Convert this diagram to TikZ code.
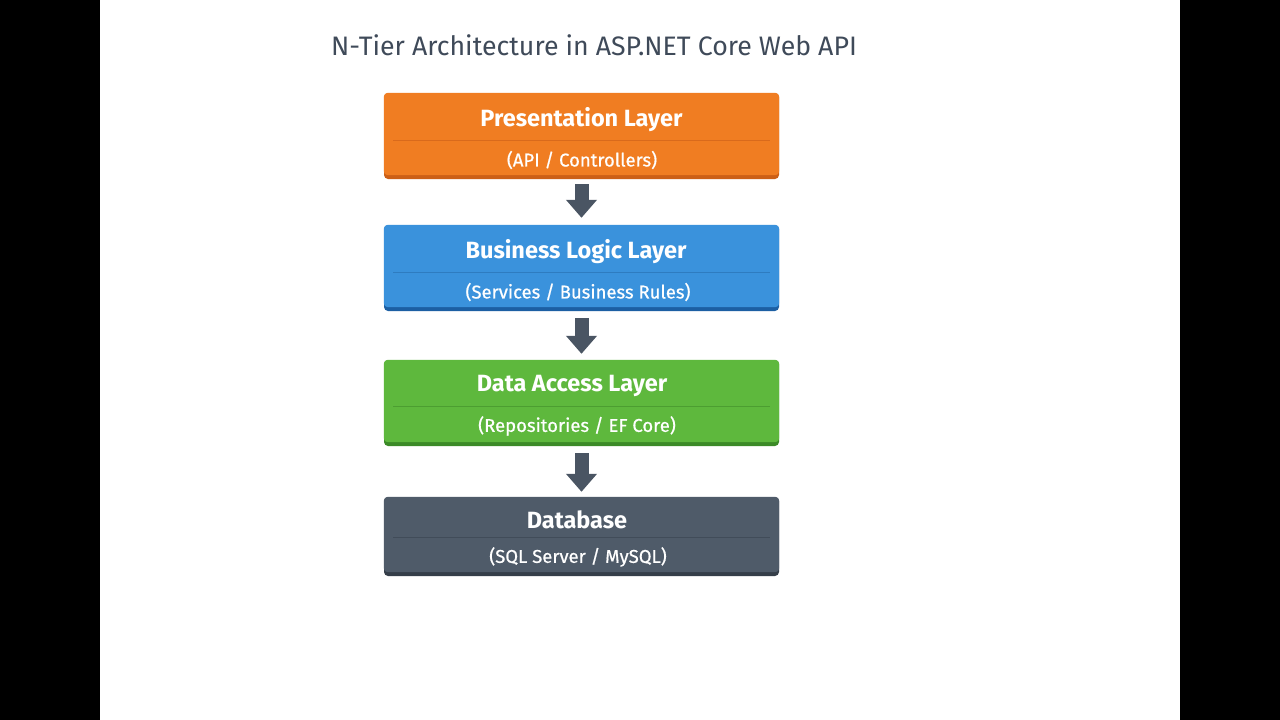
\documentclass[tikz,border=0pt]{standalone}
\usepackage{fontspec}
\setmainfont{Fira Sans}
\newfontfamily\subfont[FakeBold=0.7]{Fira Sans}
\usetikzlibrary{arrows.meta}
\definecolor{orMain}{HTML}{F07D22}
\definecolor{orDark}{HTML}{CC5F16}
\definecolor{orLine}{HTML}{D96A1C}
\definecolor{blMain}{HTML}{3A92DC}
\definecolor{blDark}{HTML}{1C5FA3}
\definecolor{blLine}{HTML}{2E7CC0}
\definecolor{grMain}{HTML}{5EB83D}
\definecolor{grDark}{HTML}{3B8A27}
\definecolor{grLine}{HTML}{4C9E31}
\definecolor{dbMain}{HTML}{4F5B69}
\definecolor{dbDark}{HTML}{353E49}
\definecolor{dbLine}{HTML}{414C59}
\definecolor{arrowCol}{HTML}{4A5563}
\definecolor{titleCol}{HTML}{3F4A59}
\tikzset{
  layer/.style={minimum width=395pt, inner sep=0pt, rounded corners=4pt},
  layerhead/.style={text=white, font=\bfseries\fontsize{23.5}{26}\selectfont, inner sep=0pt},
  layersub/.style={text=white, font=\subfont\fontsize{18.5}{21}\selectfont, inner sep=0pt},
  bigarrow/.style={draw=arrowCol, line width=14pt, -{Triangle[width=30pt,length=18pt]}},
}
\begin{document}
\begin{tikzpicture}[x=1pt,y=-1pt]
\useasboundingbox (0,0) rectangle (1280,720);
\fill[black] (0,0) rectangle (100,720);
\fill[black] (1180,0) rectangle (1280,720);
\fill[white] (100,0) rectangle (1180,720);

\node[text=titleCol, font=\fontsize{26.7}{30}\selectfont, inner sep=0pt] (title) at (594,45) {N-Tier Architecture in ASP.NET Core Web API};

% Presentation
\node[layer, fill=orDark, minimum height=86pt] (pres) at (581.5,136) {};
\fill[orMain, rounded corners=4pt] (pres.north west) rectangle ([yshift=4pt]pres.south east);
\draw[orLine, line width=0.8pt] (393,140) -- (770,140);
\node[layerhead] (presT) at (581.5,120) {Presentation Layer};
\node[layersub] (presS) at (582,160) {(API / Controllers)};

% Business
\node[layer, fill=blDark, minimum height=86pt] (bus) at (581.5,268) {};
\fill[blMain, rounded corners=4pt] (bus.north west) rectangle ([yshift=4pt]bus.south east);
\draw[blLine, line width=0.8pt] (393,272) -- (770,272);
\node[layerhead] (busT) at (576,252) {Business Logic Layer};
\node[layersub] (busS) at (578,292) {(Services / Business Rules)};

% Data access
\node[layer, fill=grDark, minimum height=86pt] (dal) at (581.5,403) {};
\fill[grMain, rounded corners=4pt] (dal.north west) rectangle ([yshift=4pt]dal.south east);
\draw[grLine, line width=0.8pt] (393,406) -- (770,406);
\node[layerhead] (dalT) at (572,386) {Data Access Layer};
\node[layersub] (dalS) at (577,426) {(Repositories / EF Core)};

% Database
\node[layer, fill=dbDark, minimum height=79pt] (db) at (581.5,536.5) {};
\fill[dbMain, rounded corners=4pt] (db.north west) rectangle ([yshift=4pt]db.south east);
\draw[dbLine, line width=0.8pt] (393,537) -- (770,537);
\node[layerhead] (dbT) at (577,520) {Database};
\node[layersub] (dbS) at (578,557) {(SQL Server / MySQL)};

% arrows
\draw[bigarrow, shorten <=5pt, shorten >=7pt] (pres.south) -- (bus.north);
\draw[bigarrow, shorten <=7pt, shorten >=6pt] (bus.south) -- (dal.north);
\draw[bigarrow, shorten <=7pt, shorten >=5pt] (dal.south) -- (db.north);
\end{tikzpicture}
\end{document}
